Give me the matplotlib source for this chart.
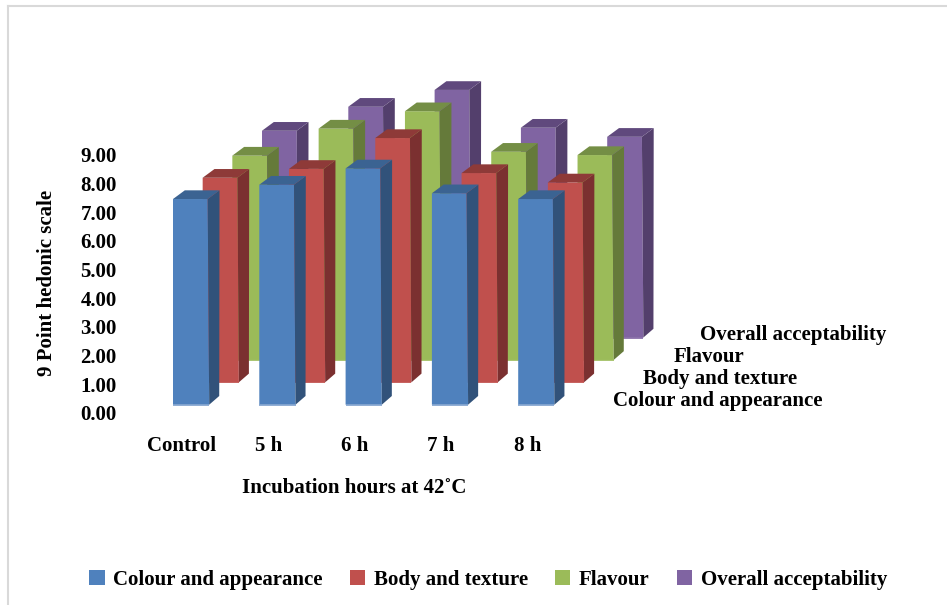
import matplotlib
matplotlib.use("Agg")
import matplotlib.pyplot as plt
from matplotlib.patches import Polygon, Patch

categories = ["Control", "5 h", "6 h", "7 h", "8 h"]
series_names = ["Colour and appearance", "Body and texture", "Flavour", "Overall acceptability"]
colour_appearance = [7.46, 7.98, 8.57, 7.67, 7.46]
body_texture = [7.42, 7.74, 8.86, 7.59, 7.25]
flavour = [7.41, 8.39, 9.02, 7.55, 7.43]
overall = [7.50, 8.37, 8.98, 7.61, 7.28]
value_ticks = [0, 1, 2, 3, 4, 5, 6, 7, 8, 9]

front = ["#4F81BD", "#C0504D", "#9BBB59", "#8064A2"]
side = ["#31527A", "#7B3030", "#657A3A", "#533F6C"]
top = ["#3B6392", "#8E3A38", "#748E45", "#60497D"]
edge = ["#7DA0CD", "#C0504D", "#9BBB59", "#8064A2"]

W, H = 947, 605
plt.rcParams["font.family"] = ["Liberation Serif", "DejaVu Serif"]
plt.rcParams["font.weight"] = "bold"
fig = plt.figure(figsize=(W / 100, H / 100), dpi=100, facecolor="white")

# Main axes: x is in category units, y in score units
PX_CAT, PX_VAL = 86.3, 27.57
X0, Y0 = 190.5, 404.7
ax = fig.add_axes([0, 0, 1, 1])
ax.set_xlim(-X0 / PX_CAT, (W - X0) / PX_CAT)
ax.set_ylim((Y0 - H) / PX_VAL, Y0 / PX_VAL)
ax.patch.set_visible(False)

BAR_W = 34.7 / PX_CAT
BAR_W_BASE = 36.2 / PX_CAT
STEP_X, STEP_Y = 29.67 / PX_CAT, 22.4 / PX_VAL
DEPTH_X, DEPTH_Y = 11.8 / PX_CAT, 8.7 / PX_VAL

all_series = [colour_appearance, body_texture, flavour, overall]

def draw_bar(cat, s, v):
    xl = cat - 17.5 / PX_CAT + s * STEP_X
    yb = s * STEP_Y
    yt = yb + v
    xr_t, xr_b = xl + BAR_W, xl + BAR_W_BASE
    z = 10 - s
    ax.add_patch(Polygon([(xl, yb), (xr_b, yb), (xr_t, yt), (xl, yt)],
                         fc=front[s], ec="none", zorder=z))
    ax.add_patch(Polygon([(xr_b, yb), (xr_b + DEPTH_X * .85, yb + DEPTH_Y),
                          (xr_t + DEPTH_X, yt + DEPTH_Y), (xr_t, yt)],
                         fc=side[s], ec="none", zorder=z))
    ax.add_patch(Polygon([(xl, yt), (xr_t, yt), (xr_t + DEPTH_X, yt + DEPTH_Y),
                          (xl + DEPTH_X, yt + DEPTH_Y)],
                         fc=top[s], ec="none", zorder=z))
    ax.plot([xl, xr_b], [yb, yb], color=edge[s], lw=1.2, zorder=z, solid_capstyle="butt")

for s, vals in enumerate(all_series):
    for c, v in enumerate(vals):
        draw_bar(c, s, v)

# Category axis
for sp in ["top", "left", "right"]:
    ax.spines[sp].set_visible(False)
ax.spines["bottom"].set_position(("data", -1.15))
ax.spines["bottom"].set_visible(False)
ax.yaxis.set_visible(False)
ax.set_xticks([c - 8.5 / PX_CAT for c in range(len(categories))])
ax.set_xticklabels(categories, fontsize=15, fontweight="bold")
ax.tick_params(axis="x", length=0, pad=0)
ax.set_xlabel("Incubation hours at 42˚C", fontsize=15, fontweight="bold")
ax.xaxis.set_label_coords(354 / W, 1 - 488 / H, transform=ax.transAxes)
ax.xaxis.label.set_va("center")

# Series (depth) labels
label_left = [613, 643, 674, 700]
for s, name in enumerate(series_names):
    ax.text(s * STEP_X + (613 - X0) / PX_CAT + (label_left[s] - 613 - s * 29.67) / PX_CAT,
            (Y0 - 401) / PX_VAL + s * (22 / PX_VAL),
            name, fontsize=15, fontweight="bold", ha="left", va="center", zorder=20)

# Value axis
y_low, y_high = 413.0, 155.0
ax_val = fig.add_axes([125 / W, 1 - y_low / H, 10 / W, (y_low - y_high) / H])
ax_val.set_ylim(0, 9)
ax_val.set_xticks([])
ax_val.set_yticks(value_ticks)
ax_val.set_yticklabels([f"{v:.2f}" for v in value_ticks], fontsize=15, fontweight="bold")
ax_val.tick_params(axis="y", length=0, pad=6)
ax_val.patch.set_visible(False)
for sp in ax_val.spines.values():
    sp.set_visible(False)
ax_val.set_ylabel("9 Point hedonic scale", fontsize=15, fontweight="bold")
ax_val.yaxis.set_label_coords(-6.8, (413 - 283) / 258, transform=ax_val.transAxes)

# Legend
handles = [Patch(fc=front[i], ec="none", label=series_names[i]) for i in range(4)]
leg = fig.legend(handles=handles, ncol=4, loc="center", bbox_to_anchor=(488 / W, 1 - 580 / H),
                 frameon=False, fontsize=15, handlelength=0.75, handleheight=0.75,
                 handletextpad=0.4, columnspacing=1.3, borderpad=0)

# Chart frame
for xs, ys in [((7.5, 7.5), (605, 5.5)), ((7.5, 947), (5.5, 5.5))]:
    fig.add_artist(plt.Line2D([x / W for x in xs], [1 - y / H for y in ys],
                              color="#D9D9D9", lw=1.5))

fig.savefig("out.png", dpi=100)
